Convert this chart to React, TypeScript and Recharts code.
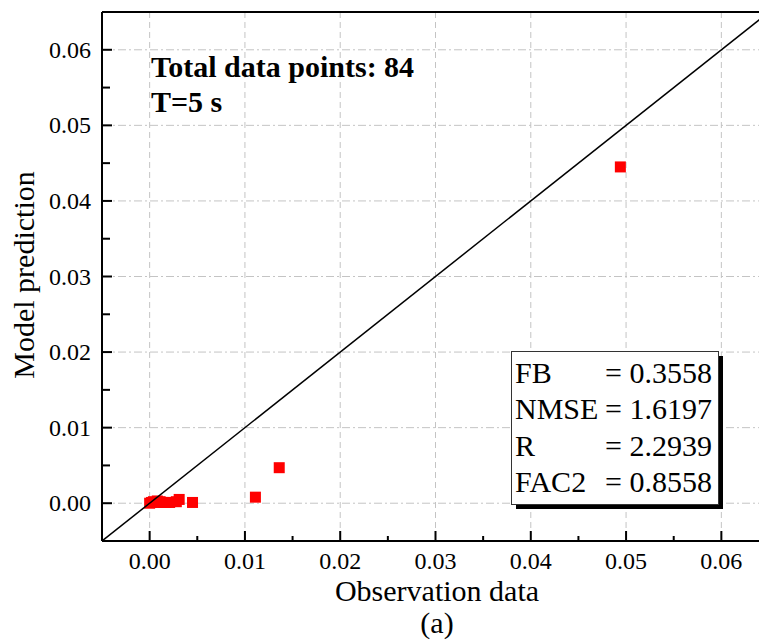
import { ScatterChart, Scatter, XAxis, YAxis, CartesianGrid, ReferenceLine } from "recharts";

// observation vs prediction (most of the 84 points overlap near the origin)
const observed = [0.0, 0.0002, 0.0004, 0.0006, 0.0008, 0.0011, 0.0014, 0.0017, 0.0021, 0.0028, 0.0031, 0.0045, 0.0111, 0.0136, 0.0494];
const predicted = [0.0, 0.0001, 0.0002, 0.0001, 0.0003, 0.0002, 0.0001, 0.0001, 0.0001, 0.0002, 0.0005, 0.0001, 0.0008, 0.0047, 0.0445];

const majorTicks = [0, 0.01, 0.02, 0.03, 0.04, 0.05, 0.06];
const minorTicks = [0.005, 0.015, 0.025, 0.035, 0.045, 0.055];
const xDomain = [-0.005, 0.065];
const yDomain = [-0.005, 0.065];
const diagonal = [-0.005, 0.065];

const statLabels = ["FB", "NMSE", "R", "FAC2"];
const statValues = ["0.3558", "1.6197", "2.2939", "0.8558"];

const FONT = "'Liberation Serif', 'Times New Roman', serif";

const points = observed.map((x, i) => ({ x, y: predicted[i] }));
const diagPoints = diagonal.map((v) => ({ x: v, y: v }));
const allTicks = [...majorTicks, ...minorTicks].sort((a, b) => a - b);

const isMajor = (v: number) => Math.abs(v * 100 - Math.round(v * 100)) < 1e-6;

function XTick(props: any) {
  const { x, y, payload } = props;
  const major = isMajor(payload.value);
  return (
    <g>
      <line x1={x} x2={x} y1={y} y2={y - (major ? 10 : 5)} stroke="#000" strokeWidth={2} />
      {major && (
        <text x={x} y={y + 28} textAnchor="middle" fontFamily={FONT} fontSize={24} fill="#000">
          {payload.value.toFixed(2)}
        </text>
      )}
    </g>
  );
}

function YTick(props: any) {
  const { x, y, payload } = props;
  const major = isMajor(payload.value);
  return (
    <g>
      <line x1={x} x2={x + (major ? 10 : 8)} y1={y} y2={y} stroke="#000" strokeWidth={2} />
      {major && (
        <text x={x - 11} y={y + 8} textAnchor="end" fontFamily={FONT} fontSize={24} fill="#000">
          {payload.value.toFixed(2)}
        </text>
      )}
    </g>
  );
}

function RedSquare(props: any) {
  const { cx, cy } = props;
  return <rect x={cx - 5.5} y={cy - 5.5} width={11} height={11} fill="#ff0000" />;
}

export default function App() {
  return (
    <div style={{ position: "fixed", left: 0, top: 0, width: 759, height: 641, overflow: "hidden", background: "#fff" }}>
      <ScatterChart width={770} height={641} margin={{ top: 12, right: 1, left: 0, bottom: 0 }}>
        <CartesianGrid
          horizontal={false}
          verticalValues={majorTicks}
          stroke="#c4c4c4"
          strokeDasharray="6 4"
        />
        <CartesianGrid
          vertical={false}
          horizontalValues={majorTicks}
          stroke="#c4c4c4"
          strokeDasharray="8 3 2 3"
        />
        <XAxis
          type="number"
          dataKey="x"
          domain={xDomain}
          ticks={allTicks}
          allowDataOverflow
          height={100}
          tickSize={0}
          tickMargin={0}
          tickLine={false}
          axisLine={{ stroke: "#000", strokeWidth: 2 }}
          tick={<XTick />}
          interval={0}
        />
        <YAxis
          type="number"
          dataKey="y"
          domain={yDomain}
          ticks={allTicks}
          allowDataOverflow
          width={102}
          tickSize={0}
          tickMargin={0}
          tickLine={false}
          axisLine={{ stroke: "#000", strokeWidth: 2 }}
          tick={<YTick />}
          interval={0}
        />
        <ReferenceLine y={yDomain[1]} stroke="#000" strokeWidth={2} />
        <Scatter data={points} shape={<RedSquare />} isAnimationActive={false} />
        <Scatter
          data={diagPoints}
          line={{ stroke: "#000", strokeWidth: 1.5 }}
          shape={() => <g />}
          isAnimationActive={false}
        />
      </ScatterChart>
      <svg
        width={759}
        height={641}
        style={{ position: "absolute", left: 0, top: 0, pointerEvents: "none" }}
        fontFamily={FONT}
      >
        <text x={151} y={77} fontSize={30} fontWeight="bold" fill="#000">
          Total data points: 84
        </text>
        <text x={151} y={112} fontSize={30} fontWeight="bold" fill="#000">
          T=5 s
        </text>

        <rect x={516} y={356} width={207} height={153} fill="#000" />
        <rect x={511.5} y={351.5} width={207} height={153} fill="#fff" stroke="#333" strokeWidth={1} />
        {statLabels.map((lab, i) => (
          <g key={lab}>
            <text x={515} y={383 + i * 36.4} fontSize={30} fill="#000">
              {lab}
            </text>
            <text x={712} y={383 + i * 36.4} fontSize={30} fill="#000" textAnchor="end">
              {"= " + statValues[i]}
            </text>
          </g>
        ))}

        <text x={437} y={601} fontSize={30} textAnchor="middle" fill="#000">
          Observation data
        </text>
        <text x={437} y={633} fontSize={30} textAnchor="middle" fill="#000">
          (a)
        </text>
        <text x={34} y={275} fontSize={30} textAnchor="middle" fill="#000" transform="rotate(-90, 34, 275)">
          Model prediction
        </text>
      </svg>
    </div>
  );
}
